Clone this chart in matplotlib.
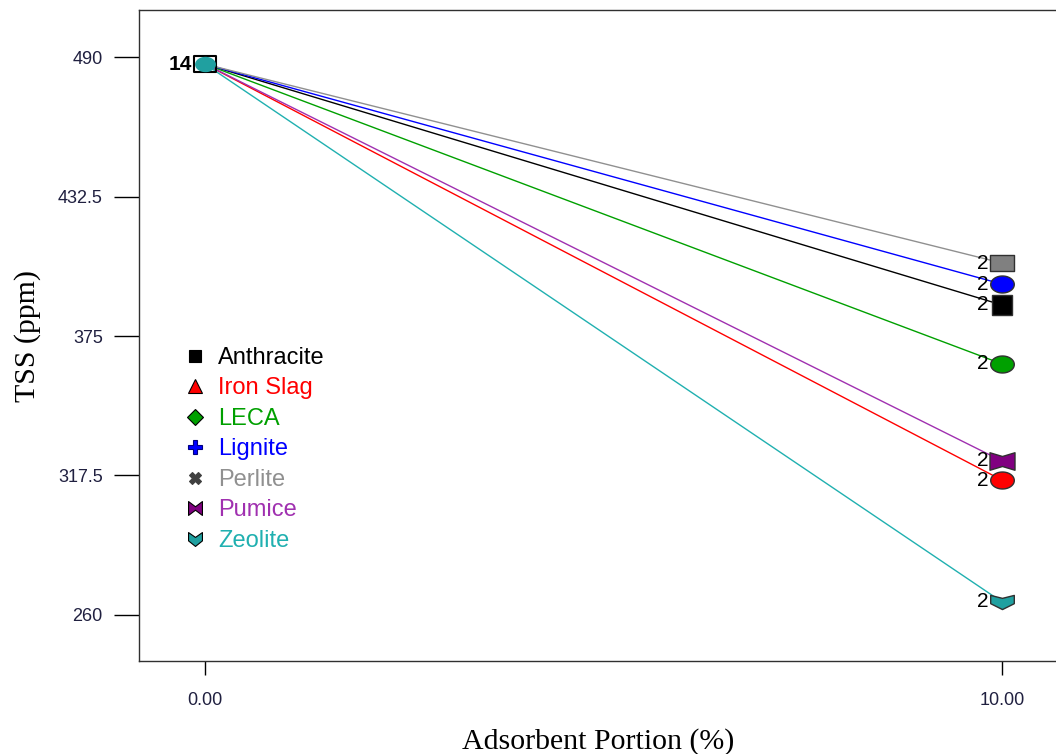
import numpy as np
import matplotlib
matplotlib.use("Agg")
import matplotlib.pyplot as plt
from matplotlib.path import Path
from matplotlib.lines import Line2D

portion = [0.0, 10.0]
names = ["Anthracite", "Iron Slag", "LECA", "Lignite", "Perlite", "Pumice", "Zeolite"]
start_tss = [487.1, 487.1, 487.1, 487.1, 487.1, 487.1, 487.1]
end_tss = [387.8, 315.6, 363.5, 396.4, 405.1, 323.5, 265.4]
colors = ["black", "red", "#00A000", "blue", "#909090", "#A030B0", "#20B0B0"]
fills = ["black", "red", "#00A000", "blue", "#808080", "#800080", "#20A0A0"]
start_count = "14"
end_count = "2"
yticks = [260, 317.5, 375, 432.5, 490]
xticks = [0.0, 10.0]

# custom marker shapes
bowtie = Path([(-1, 1), (0, 0.25), (1, 1), (1, -1), (0, -0.25), (-1, -1), (-1, 1)], closed=True)
chevron = Path([(-1, 1), (0, 0.3), (1, 1), (1, -0.2), (0, -1), (-1, -0.2), (-1, 1)], closed=True)
t = np.linspace(0, 2 * np.pi, 40)
ellipse = Path(np.column_stack([1.0 * np.cos(t), 0.72 * np.sin(t)]), closed=True)
wide_rect = Path([(-1, -0.7), (1, -0.7), (1, 0.7), (-1, 0.7), (-1, -0.7)], closed=True)
wide_bow = Path([(-1, 0.7), (0, 0.4), (1, 0.7), (1, -0.7), (0, -0.4), (-1, -0.7), (-1, 0.7)], closed=True)
wide_chev = Path([(-1, 0.6), (0, 0.35), (1, 0.6), (1, -0.1), (0, -0.6), (-1, -0.1), (-1, 0.6)], closed=True)

legend_markers = ["s", "^", "D", "P", "X", bowtie, chevron]
legend_sizes = [9, 10, 8, 10, 9, 10, 10]
end_markers = ["s", ellipse, ellipse, ellipse, wide_rect, wide_bow, wide_chev]
end_sizes = [15, 17, 17, 17, 17, 18, 17]

fig = plt.figure(figsize=(10.56, 7.54), dpi=100)
ax = fig.add_axes([0.1316, 0.1233, 0.8700, 0.8634])

for i, name in enumerate(names):
    ax.plot(portion, [start_tss[i], end_tss[i]], color=colors[i], linewidth=1.0, zorder=2)

for i, name in enumerate(names):
    ax.plot(portion[1], end_tss[i], marker=end_markers[i], markersize=end_sizes[i],
            markerfacecolor=fills[i], markeredgecolor="#303030", markeredgewidth=1.0,
            linestyle="none", zorder=3)
    ax.text(portion[1] - 0.17, end_tss[i], end_count, ha="right", va="center",
            fontsize=15, family="Liberation Sans", zorder=4)

# start point: all series overlap
ax.plot(portion[0], start_tss[0], marker=wide_rect, markersize=16, markerfacecolor="none",
        markeredgecolor="black", markeredgewidth=1.5, linestyle="none", zorder=3)
ax.plot(portion[0], start_tss[-1], marker=ellipse, markersize=14, markerfacecolor=fills[-1],
        markeredgecolor="#20A0A0", linestyle="none", zorder=4)
ax.text(portion[0] - 0.17, start_tss[0], start_count, ha="right", va="center",
        fontsize=15, fontweight="bold", family="Liberation Sans", zorder=4)

handles = [Line2D([], [], linestyle="none", marker=legend_markers[i], markersize=legend_sizes[i],
                  markerfacecolor=fills[i] if i != 4 else "#404040",
                  markeredgecolor="black" if i not in (3, 4) else ("#000080" if i == 3 else "#404040"),
                  markeredgewidth=0.8)
           for i in range(len(names))]
leg = ax.legend(handles, names, labelcolor=colors, frameon=False,
                loc="upper left", bbox_to_anchor=(0.04, 0.497),
                prop={"family": "Liberation Sans", "size": 17},
                handlelength=0.8, handletextpad=0.6, labelspacing=0.36, borderaxespad=0)

ax.set_xlim(-0.83, 10.7)
ax.set_ylim(241, 509.4)
ax.set_xticks(xticks)
ax.set_xticklabels([f"{v:.2f}" for v in xticks])
ax.set_yticks(yticks)
ax.set_yticklabels([f"{v:g}" for v in yticks])
ax.tick_params(axis="y", direction="out", length=18, width=1, pad=8, labelsize=13,
               labelcolor="#202040")
ax.tick_params(axis="x", direction="out", length=10, width=1, pad=12, labelsize=13,
               labelcolor="#202040")
for lab in ax.get_xticklabels() + ax.get_yticklabels():
    lab.set_family("Liberation Sans")
ax.spines["right"].set_visible(False)
for s in ["left", "top", "bottom"]:
    ax.spines[s].set_linewidth(1.0)
    ax.spines[s].set_color("#303030")

ax.set_xlabel("Adsorbent Portion (%)", family="Liberation Serif", fontsize=21.5, labelpad=14)
ax.set_ylabel("TSS (ppm)", family="Liberation Serif", fontsize=21.5, labelpad=12)

fig.savefig("out.png", dpi=100)
